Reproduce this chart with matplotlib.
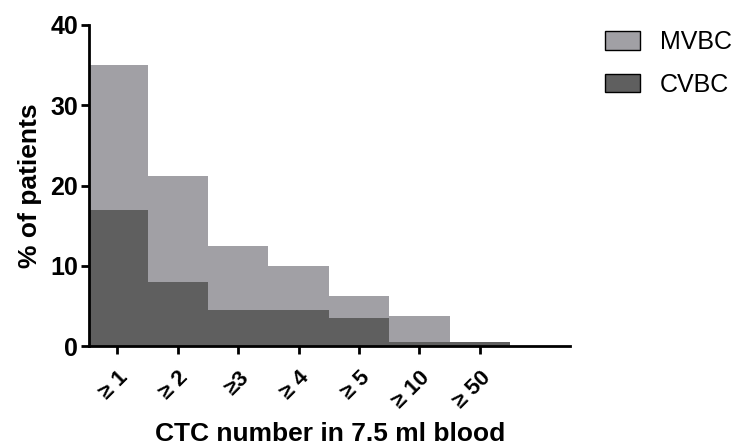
import numpy as np
import matplotlib.pyplot as plt
from matplotlib.patches import Patch

plt.rcParams['font.family'] = ['Liberation Sans', 'DejaVu Sans']

categories = ['\u2265 1', '\u2265 2', '\u22653', '\u2265 4', '\u2265 5', '\u2265 10', '\u2265 50']
mvbc = [35.0, 21.2, 12.5, 10.0, 6.2, 3.7, 0.5]
cvbc = [17.0, 8.0, 4.5, 4.5, 3.5, 0.5, 0.5]

light = '#a1a0a5'
dark = '#5f5f5f'

fig = plt.figure(figsize=(7.36, 4.45), dpi=100)
ax = fig.add_axes([0.121, 0.222, 0.654, 0.722])

x = np.arange(len(categories))
ax.bar(x, mvbc, width=1.0, color=light, edgecolor='none')
ax.bar(x, cvbc, width=1.0, color=dark, edgecolor='none')

ax.set_xlim(-0.47, 7.5)
ax.set_ylim(0, 40)
ax.set_yticks([0, 10, 20, 30, 40])
ax.set_xticks(x)
ax.set_xticklabels(categories, rotation=45, ha='right', va='top',
                   rotation_mode='anchor', fontsize=16, fontweight='bold')
for lab in ax.get_yticklabels():
    lab.set_fontweight('bold')
    lab.set_fontsize(18)

ax.spines['top'].set_visible(False)
ax.spines['right'].set_visible(False)
ax.spines['left'].set_linewidth(2)
ax.spines['bottom'].set_linewidth(2)
ax.tick_params(axis='both', direction='out', width=2, length=6)
ax.tick_params(axis='y', pad=2)
ax.tick_params(axis='x', pad=9)

ax.set_ylabel('% of patients', fontsize=19, fontweight='bold', labelpad=6)
ax.set_xlabel('CTC number in 7.5 ml blood', fontsize=19, fontweight='bold', labelpad=7)

handles = [Patch(facecolor=light, edgecolor='black', linewidth=1, label='MVBC'),
           Patch(facecolor=dark, edgecolor='black', linewidth=1, label='CVBC')]
fig.legend(handles=handles, loc='upper left', bbox_to_anchor=(0.805, 0.96),
           frameon=False, fontsize=18, handlelength=1.4, handleheight=0.75,
           handletextpad=0.8, labelspacing=0.75, borderpad=0)

fig.savefig('out.png', dpi=100)
